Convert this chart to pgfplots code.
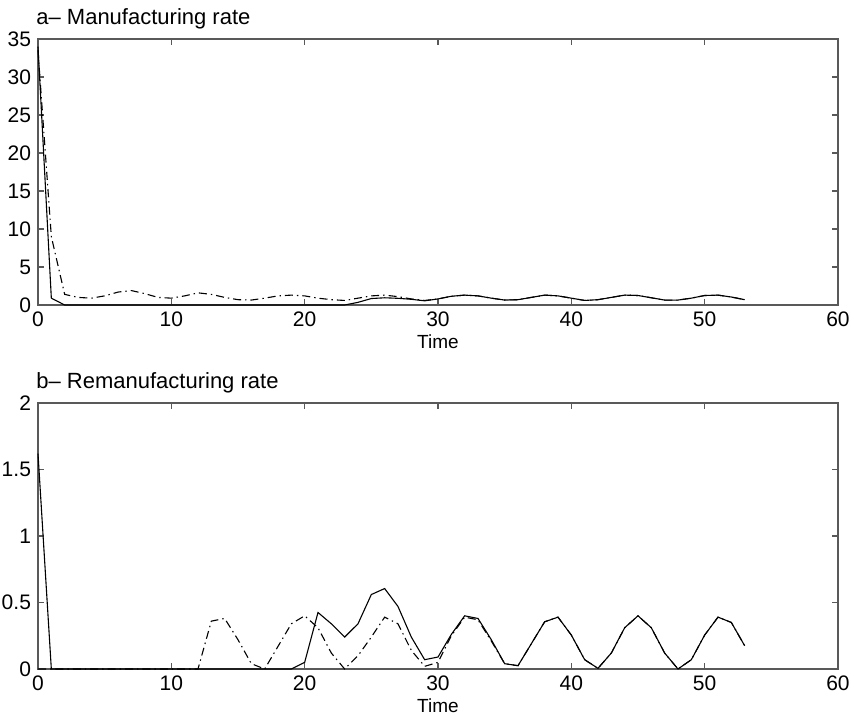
\documentclass[border=0pt]{standalone}
\usepackage{pgfplots}
\pgfplotsset{compat=1.18}
\usepackage{fontspec}
\setmainfont{Liberation Sans}
\begin{document}
\begin{tikzpicture}
\pgfplotsset{
  every axis/.append style={
    scale only axis, width=400pt, height=133pt,
    xmin=0, xmax=60, xtick={0,10,...,60},
    tick align=inside, major tick length=3pt,
    axis line style={gray!70!black, line width=0.6pt},
    every tick/.style={gray!70!black, line width=0.6pt},
    tick label style={font=\fontsize{10.5}{12}\selectfont},
    /pgf/number format/assume math mode=true,
    xlabel={Time}, xlabel style={font=\fontsize{9.5}{11}\selectfont, yshift=3pt},
    title style={at={(0,1)}, anchor=south west, inner xsep=0pt, xshift=-1pt, yshift=-4.5pt, font=\fontsize{11}{13}\selectfont},
    clip=false,
  },
  solidline/.style={black, line width=0.55pt},
  dashdot/.style={black, line width=0.55pt, dash pattern=on 4pt off 2pt on 0.7pt off 2pt},
}
\begin{axis}[name=top, at={(0,0)}, anchor=south west,
  ymin=0, ymax=35, ytick={0,5,...,35},
  title={a\textendash\ Manufacturing rate}]
\addplot[dashdot] coordinates {
(0,33.5)(1,9)(2,1.4)(3,1.0)(4,0.9)(5,1.2)(6,1.7)(7,1.9)(8,1.5)(9,1.0)(10,0.9)
(11,1.2)(12,1.6)(13,1.4)(14,1.0)(15,0.7)(16,0.65)(17,0.9)(18,1.2)(19,1.3)(20,1.2)
(21,0.9)(22,0.7)(23,0.6)(24,0.9)(25,1.2)(26,1.3)(27,1.1)(28,0.8)(29,0.6)(30,0.8)
(31,1.15)(32,1.3)(33,1.2)(34,0.9)(35,0.65)(36,0.7)(37,1.0)(38,1.3)(39,1.2)(40,0.9)
(41,0.6)(42,0.7)(43,1.0)(44,1.3)(45,1.25)(46,0.95)(47,0.65)(48,0.65)(49,0.9)(50,1.25)
(51,1.3)(52,1.05)(53,0.7)};
\addplot[solidline] coordinates {
(0,34)(1,0.9)(2,0)(3,0)(10,0)(20,0)(23,0)(24,0.35)(25,0.85)(26,0.95)(27,0.88)(28,0.75)(29,0.55)(30,0.8)
(31,1.15)(32,1.3)(33,1.2)(34,0.9)(35,0.65)(36,0.7)(37,1.0)(38,1.3)(39,1.2)(40,0.9)
(41,0.6)(42,0.7)(43,1.0)(44,1.3)(45,1.25)(46,0.95)(47,0.65)(48,0.65)(49,0.9)(50,1.25)
(51,1.3)(52,1.05)(53,0.7)};
\end{axis}
\begin{axis}[name=bot, at={(0,-182pt)}, anchor=south west,
  ymin=0, ymax=2, ytick={0,0.5,1,1.5,2},
  title={b\textendash\ Remanufacturing rate}]
\addplot[dashdot] coordinates {
(0,0)(12,0)(13,0.36)(14,0.38)(15,0.22)(16,0.04)(17,0.0)(18,0.17)(19,0.34)(20,0.4)
(21,0.31)(22,0.12)(23,0.0)(24,0.1)(25,0.24)(26,0.39)(27,0.34)(28,0.14)(29,0.02)(30,0.05)
(31,0.25)(32,0.39)(33,0.37)(34,0.21)(35,0.04)(36,0.025)(37,0.19)(38,0.355)(39,0.39)(40,0.255)
(41,0.07)(42,0.005)(43,0.12)(44,0.31)(45,0.40)(46,0.31)(47,0.12)(48,0.0)(49,0.07)(50,0.255)
(51,0.39)(52,0.35)(53,0.175)};
\addplot[solidline] coordinates {
(0,1.62)(1,0)(10,0)(19,0)(20,0.05)(21,0.425)(22,0.34)(23,0.24)(24,0.34)(25,0.56)
(26,0.605)(27,0.47)(28,0.24)(29,0.07)(30,0.09)(31,0.26)(32,0.4)(33,0.38)(34,0.22)(35,0.04)
(36,0.025)(37,0.19)(38,0.355)(39,0.39)(40,0.255)(41,0.07)(42,0.005)(43,0.12)(44,0.31)(45,0.40)
(46,0.31)(47,0.12)(48,0.0)(49,0.07)(50,0.255)(51,0.39)(52,0.35)(53,0.175)};
\end{axis}
\pgfresetboundingbox
\path[use as bounding box] (-19pt,-206.5pt) rectangle (406.5pt,152.5pt);
\end{tikzpicture}
\end{document}
